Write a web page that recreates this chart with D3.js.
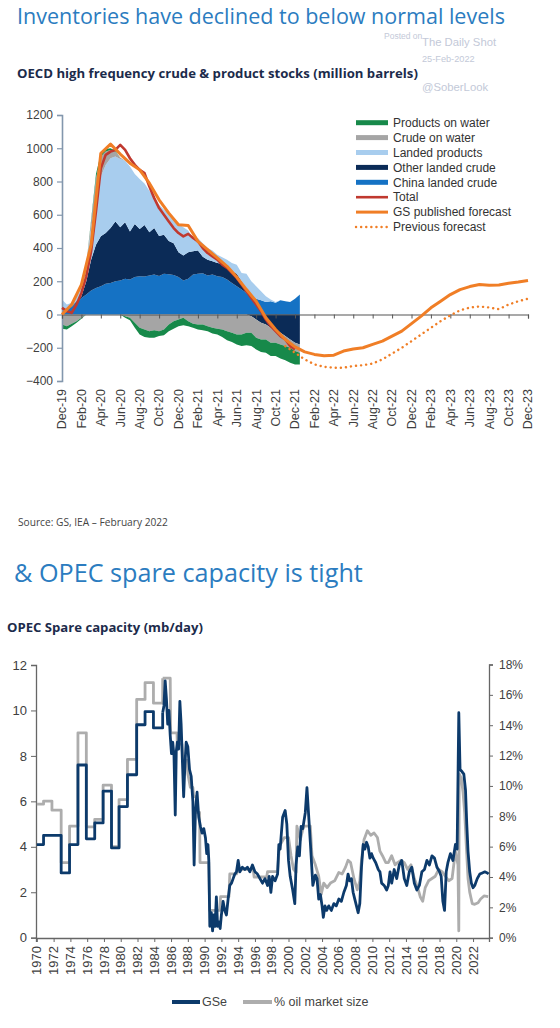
<!DOCTYPE html>
<html lang="en">
<head>
<meta charset="UTF-8">
<title>Inventories and OPEC spare capacity</title>
<script src="https://d3js.org/d3.v7.min.js"></script>
<style>
  body { margin: 0; background: #fff; }
  svg { display: block; }
</style>
</head>
<body>
<svg width="560" height="1028"></svg>
<script>
// ---------- Chart 1: OECD stocks (months after Dec-19, every half month) ----------
const stockMonths = d3.range(0, 25, 0.5);
const chinaCrude = [20,30,45,70,100,120,145,160,170,185,190,200,205,215,210,225,230,228,235,240,232,245,242,238,225,205,215,240,245,248,235,240,230,225,210,190,170,150,130,110,95,85,75,80,70,85,80,75,95,120];
const otherCrude = [0,5,5,10,10,80,185,260,300,305,330,360,320,340,290,320,285,310,260,280,240,235,200,190,150,150,160,140,140,100,95,80,80,80,80,70,75,50,20,-10,-30,-50,-60,-80,-90,-110,-130,-150,-170,-180];
const landedProducts = [70,25,20,30,90,100,190,280,360,410,420,390,410,370,390,300,300,250,250,180,190,150,170,150,170,170,130,80,75,80,70,65,50,40,40,50,55,50,95,90,75,55,35,10,5,0,0,0,0,0];
const crudeOnWater = [-60,-70,-55,-40,-20,0,40,120,120,80,50,30,10,-10,-20,-50,-80,-90,-100,-95,-100,-90,-60,-40,-30,-20,-40,-55,-60,-60,-70,-80,-85,-90,-100,-110,-120,-120,-110,-100,-110,-100,-90,-90,-80,-70,-60,-50,-50,-50];
const productsOnWater = [-25,-20,-15,-10,-5,0,10,25,20,15,10,5,0,-10,-15,-30,-40,-45,-40,-45,-30,-35,-40,-45,-40,-45,-30,-25,-30,-35,-30,-35,-35,-45,-55,-55,-60,-70,-75,-80,-70,-75,-80,-80,-80,-85,-85,-90,-80,-70];
const totalStocks = [40,20,10,60,130,230,380,620,880,960,980,990,1020,990,940,900,870,850,770,700,640,600,560,520,490,470,485,460,440,400,370,350,330,300,280,250,220,180,140,100,60,20,-30,-70,-100,-130,-150,-190,-210];

// monthly forecasts
const forecastMonths = d3.range(0, 49);
const gsForecast = [0,60,180,420,970,1025,965,910,870,790,690,610,540,535,440,390,340,290,225,150,80,-20,-90,-150,-195,-225,-240,-248,-245,-220,-208,-200,-180,-160,-130,-100,-55,-10,40,80,120,150,168,180,176,178,188,195,205];
const prevMonths = d3.range(23, 49);
const prevForecast = [-190,-230,-270,-300,-315,-320,-320,-310,-305,-295,-270,-235,-200,-160,-120,-80,-40,-5,25,42,48,42,32,60,80,95];

const monthLabels = ["Dec-19","Feb-20","Apr-20","Jun-20","Aug-20","Oct-20","Dec-20","Feb-21","Apr-21","Jun-21","Aug-21","Oct-21","Dec-21","Feb-22","Apr-22","Jun-22","Aug-22","Oct-22","Dec-22","Feb-23","Apr-23","Jun-23","Aug-23","Oct-23","Dec-23"];
const stockTicks = [-400, -200, 0, 200, 400, 600, 800, 1000, 1200];

const legendItems = [
  { name: "Products on water", color: "#17894a", type: "area" },
  { name: "Crude on water", color: "#a5a5a5", type: "area" },
  { name: "Landed products", color: "#a8cdee", type: "area" },
  { name: "Other landed crude", color: "#0b2b57", type: "area" },
  { name: "China landed crude", color: "#1572c4", type: "area" },
  { name: "Total", color: "#c0392f", type: "line" },
  { name: "GS published forecast", color: "#f07e26", type: "line" },
  { name: "Previous forecast", color: "#f07e26", type: "dot" }
];

// ---------- Chart 2: OPEC spare capacity ----------
// yearly steps 1970-1985
const annualYears = [1970, 1970.8, 1971.8, 1972.9, 1973.9, 1974.9, 1975.9, 1976.9, 1977.9, 1978.9, 1979.8, 1980.8, 1981.9, 1982.9, 1983.9, 1985.0];
const gseAnnual = [4.1, 4.5, 4.5, 2.85, 4.1, 7.6, 4.35, 5.05, 6.45, 3.95, 5.77, 7.17, 9.37, 9.95, 9.23, 9.9];
const pctAnnual = [8.8, 9.0, 8.4, 4.95, 7.35, 13.5, 7.3, 7.8, 10.05, 6.0, 9.1, 11.75, 15.7, 16.8, 15.45, 17.1];

// GSe (mb/day), 1985 onward
const gseMonthly = [[1985.0,9.9],[1985.15,10.2],[1985.3,11.3],[1985.45,10.5],[1985.6,9.4],[1985.75,10.0],[1985.9,8.9],[1986.05,8.1],[1986.2,8.6],[1986.35,8.0],[1986.5,5.4],[1986.62,8.2],[1986.75,8.6],[1986.9,8.3],[1987.05,10.4],[1987.2,9.4],[1987.35,7.8],[1987.5,6.2],[1987.65,7.6],[1987.8,8.6],[1988.0,8.4],[1988.2,7.4],[1988.4,7.1],[1988.6,6.0],[1988.75,3.2],[1988.9,5.5],[1989.1,6.4],[1989.3,5.3],[1989.5,4.9],[1989.7,4.6],[1989.9,4.8],[1990.1,4.4],[1990.25,3.7],[1990.4,4.1],[1990.5,3.4],[1990.62,0.5],[1990.8,1.1],[1990.95,0.3],[1991.1,1.0],[1991.25,0.5],[1991.4,1.8],[1991.55,0.5],[1991.7,0.7],[1991.85,0.4],[1992.0,1.0],[1992.2,1.6],[1992.4,1.2],[1992.6,1.0],[1992.8,1.7],[1993.0,2.3],[1993.2,2.4],[1993.4,2.6],[1993.6,2.8],[1993.8,2.9],[1994.0,3.4],[1994.2,2.9],[1994.5,3.1],[1994.8,3.0],[1995.1,3.1],[1995.4,2.9],[1995.7,3.2],[1996.0,2.9],[1996.3,2.8],[1996.6,2.6],[1996.9,2.4],[1997.2,2.6],[1997.5,2.3],[1997.7,2.7],[1997.9,2.0],[1998.1,2.7],[1998.4,2.5],[1998.7,2.8],[1998.85,4.1],[1999.0,3.9],[1999.3,5.3],[1999.6,5.6],[1999.8,5.0],[2000.0,3.4],[2000.2,2.7],[2000.5,2.1],[2000.75,1.5],[2000.9,3.2],[2001.1,4.0],[2001.3,3.6],[2001.5,4.9],[2001.7,4.8],[2002.0,5.5],[2002.2,6.6],[2002.4,5.4],[2002.6,4.2],[2002.9,2.3],[2003.2,2.75],[2003.4,2.6],[2003.6,1.7],[2003.8,1.9],[2004.0,1.4],[2004.15,0.9],[2004.35,1.4],[2004.55,1.2],[2004.8,1.4],[2005.1,1.2],[2005.4,1.5],[2005.7,1.4],[2006.0,1.7],[2006.3,1.6],[2006.6,2.0],[2006.9,2.3],[2007.1,2.8],[2007.3,2.5],[2007.5,2.6],[2007.7,2.0],[2007.9,1.7],[2008.1,1.4],[2008.3,1.1],[2008.5,1.5],[2008.7,3.1],[2008.9,4.1],[2009.1,3.9],[2009.3,4.2],[2009.5,4.0],[2009.7,3.5],[2009.9,3.7],[2010.1,3.5],[2010.4,3.3],[2010.7,3.0],[2010.9,2.9],[2011.1,2.4],[2011.4,2.3],[2011.7,2.1],[2011.9,2.3],[2012.1,2.9],[2012.3,2.4],[2012.6,3.0],[2012.9,2.6],[2013.2,3.2],[2013.5,3.4],[2013.8,2.6],[2014.1,2.3],[2014.4,2.9],[2014.7,3.1],[2015.0,2.4],[2015.3,2.1],[2015.6,2.3],[2015.9,2.9],[2016.2,3.0],[2016.5,3.4],[2016.8,3.2],[2017.1,3.6],[2017.4,3.5],[2017.7,3.1],[2018.0,2.9],[2018.2,2.7],[2018.4,1.6],[2018.6,1.2],[2018.8,2.9],[2019.0,3.3],[2019.3,3.7],[2019.6,3.4],[2019.9,4.1],[2020.1,3.9],[2020.3,9.9],[2020.45,7.4],[2020.7,7.3],[2020.9,7.2],[2021.1,6.5],[2021.25,5.0],[2021.4,3.8],[2021.6,2.9],[2021.8,2.4],[2022.0,2.2],[2022.2,2.3],[2022.5,2.6],[2022.8,2.8],[2023.1,2.85],[2023.4,2.9],[2023.7,2.85],[2023.85,2.8]];

// % of oil market size, 1985 onward
const pctMonthly = [[1985.0,17.1],[1985.9,17.1],[1985.95,13.5],[1986.7,13.5],[1986.75,12.75],[1987.3,12.75],[1987.4,11.7],[1987.9,11.7],[1988.0,10.8],[1988.3,9.9],[1988.6,9.9],[1988.7,9.3],[1989.0,9.3],[1989.1,8.25],[1989.4,8.25],[1989.45,4.95],[1990.5,4.95],[1990.6,1.8],[1991.8,1.8],[1991.9,2.7],[1992.9,2.7],[1993.0,4.2],[1993.8,4.2],[1994.0,4.5],[1995.8,4.5],[1995.9,4.0],[1997.4,4.0],[1997.5,4.35],[1998.7,4.35],[1998.9,6.0],[1999.5,6.6],[2000.0,6.6],[2000.3,5.4],[2000.6,4.5],[2000.9,4.3],[2001.0,7.35],[2001.4,6.45],[2001.8,7.35],[2002.6,7.35],[2002.8,5.4],[2003.2,4.8],[2003.6,4.05],[2003.9,2.85],[2004.2,3.6],[2004.6,3.3],[2005.0,3.6],[2005.5,3.75],[2006.0,4.3],[2006.4,4.2],[2006.8,4.65],[2007.1,5.1],[2007.4,4.95],[2007.8,3.9],[2008.2,3.15],[2008.5,3.75],[2008.7,5.1],[2009.0,6.45],[2009.4,7.05],[2009.8,6.75],[2010.2,6.9],[2010.6,6.6],[2010.9,5.7],[2011.2,5.4],[2011.6,4.95],[2011.9,4.95],[2012.3,5.4],[2012.7,4.8],[2013.0,4.95],[2013.4,5.1],[2013.8,4.95],[2014.2,4.5],[2014.6,4.8],[2015.0,3.9],[2015.4,3.3],[2015.7,2.7],[2016.0,2.4],[2016.3,3.3],[2016.7,3.75],[2017.1,3.9],[2017.5,4.05],[2017.9,4.5],[2018.3,4.35],[2018.7,4.05],[2019.1,3.75],[2019.5,3.9],[2019.9,5.7],[2020.2,4.8],[2020.3,0.45],[2020.35,10.8],[2020.6,10.5],[2020.8,9.6],[2021.0,8.25],[2021.2,6.0],[2021.4,3.9],[2021.6,3.0],[2021.9,2.25],[2022.2,2.2],[2022.6,2.3],[2022.9,2.55],[2023.3,2.75],[2023.8,2.7]];

const yearTicks = [1970,1972,1974,1976,1978,1980,1982,1984,1986,1988,1990,1992,1994,1996,1998,2000,2002,2004,2006,2008,2010,2012,2014,2016,2018,2020,2022];
const capacityTicks = [0, 2, 4, 6, 8, 10, 12];
const pctTicks = [0, 2, 4, 6, 8, 10, 12, 14, 16, 18];

const svg = d3.select("svg");
const axisFont = "'Liberation Sans', Arial, sans-serif";
const headFont = "'Open Sans', sans-serif";

// scale text so it spans the width seen in the picture
function fitWidth(t, target) {
  const w = t.node().getComputedTextLength();
  const fs = parseFloat(t.attr("font-size"));
  t.attr("font-size", (fs * target / w).toFixed(2));
}

// ---------- watermark ----------
const wm = svg.append("g").attr("font-family", axisFont).attr("fill", "#c3c9d8");
wm.append("text").attr("x", 384).attr("y", 39).attr("font-size", 8.5).text("Posted on");
wm.append("text").attr("x", 422).attr("y", 46).attr("font-size", 11.3).text("The Daily Shot");
wm.append("text").attr("x", 422).attr("y", 62).attr("font-size", 9.2).text("25-Feb-2022");
wm.append("text").attr("x", 422).attr("y", 91).attr("font-size", 11.3).text("@SoberLook");

// ---------- headings ----------
const t1 = svg.append("text").attr("x", 17).attr("y", 24).attr("font-family", headFont)
  .attr("font-size", 23).attr("fill", "#2b7cc0").text("Inventories have declined to below normal levels");
fitWidth(t1, 488);
const s1 = svg.append("text").attr("x", 17).attr("y", 78).attr("font-family", headFont)
  .attr("font-weight", 700).attr("font-size", 13).attr("fill", "#1c2b4b")
  .text("OECD high frequency crude & product stocks (million barrels)");
fitWidth(s1, 401);
const src = svg.append("text").attr("x", 18).attr("y", 526).attr("font-family", headFont)
  .attr("font-size", 9).attr("fill", "#444").text("Source: GS, IEA \u2013 February 2022");
fitWidth(src, 150);
const t2 = svg.append("text").attr("x", 14).attr("y", 582).attr("font-family", headFont)
  .attr("font-size", 25).attr("fill", "#2b7cc0").text("& OPEC spare capacity is tight");
fitWidth(t2, 349);
const s2 = svg.append("text").attr("x", 7).attr("y", 632).attr("font-family", headFont)
  .attr("font-weight", 700).attr("font-size", 13).attr("fill", "#1c2b4b")
  .text("OPEC Spare capacity (mb/day)");
fitWidth(s2, 196);

// ---------- chart 1 ----------
const x1 = d3.scaleLinear().domain([0, 48]).range([62, 528]);
const y1 = d3.scaleLinear().domain([-400, 1200]).range([381, 115]);
const g1 = svg.append("g");

const keys = ["china", "other", "landed", "crudeWater", "productsWater"];
const layerColor = { china: "#1572c4", other: "#0b2b57", landed: "#a8cdee", crudeWater: "#a5a5a5", productsWater: "#17894a" };
const seriesByKey = { china: chinaCrude, other: otherCrude, landed: landedProducts, crudeWater: crudeOnWater, productsWater: productsOnWater };

// positive and negative parts stacked separately, so sign changes do not leave slivers
function rowsFor(pick) {
  return stockMonths.map((m, i) => {
    const r = { m };
    keys.forEach(k => { r[k] = pick(seriesByKey[k][i]); });
    return r;
  });
}
const stackGen = d3.stack().keys(keys);
const posLayers = stackGen(rowsFor(v => Math.max(v, 0)));
const negLayers = stackGen(rowsFor(v => Math.min(v, 0)));
const area = d3.area().x(d => x1(d.data.m)).y0(d => y1(d[0])).y1(d => y1(d[1]));

[posLayers, negLayers].forEach(layers => {
  g1.append("g").selectAll("path").data(layers).join("path")
    .attr("fill", d => layerColor[d.key])
    .attr("d", area);
});

// y axis
const ay1 = g1.append("g").attr("transform", "translate(62,0)")
  .call(d3.axisLeft(y1).tickValues(stockTicks).tickSize(5).tickPadding(4).tickFormat(d3.format("d")));
ay1.select(".domain").attr("stroke", "#8397ad").attr("stroke-width", 1.6);
ay1.selectAll(".tick line").attr("stroke", "#8397ad").attr("stroke-width", 1.2);
ay1.selectAll(".tick text").attr("font-family", axisFont).attr("font-size", 12).attr("fill", "#404040");

// zero line with month ticks
const ax1 = g1.append("g").attr("transform", `translate(0,${y1(0)})`)
  .call(d3.axisBottom(x1).tickValues(d3.range(0, 49, 2)).tickSize(4).tickFormat(""));
ax1.select(".domain").attr("stroke", "#555").attr("stroke-width", 1.2);
ax1.selectAll(".tick line").attr("stroke", "#555");

g1.append("g").selectAll("text").data(monthLabels).join("text")
  .attr("transform", (d, i) => `translate(${x1(i * 2)},389) rotate(-90)`)
  .attr("text-anchor", "end").attr("dy", "0.35em")
  .attr("font-family", axisFont).attr("font-size", 12.5).attr("fill", "#404040")
  .text(d => d);

// lines
const line1 = d3.line().x(d => x1(d[0])).y(d => y1(d[1]));
g1.append("path").datum(totalStocks.map((v, i) => [stockMonths[i], v]))
  .attr("fill", "none").attr("stroke", "#c0392f").attr("stroke-width", 2.6)
  .attr("stroke-linejoin", "round").attr("d", line1);
g1.append("path").datum(gsForecast.map((v, i) => [forecastMonths[i], v]))
  .attr("fill", "none").attr("stroke", "#f07e26").attr("stroke-width", 3)
  .attr("stroke-linejoin", "round").attr("d", line1);
g1.append("path").datum(prevForecast.map((v, i) => [prevMonths[i], v]))
  .attr("fill", "none").attr("stroke", "#f07e26").attr("stroke-width", 2.4)
  .attr("stroke-dasharray", "0.1,5").attr("stroke-linecap", "round").attr("d", line1);

// legend
const lg = g1.append("g").attr("font-family", axisFont).attr("font-size", 12).attr("fill", "#333");
legendItems.forEach((it, i) => {
  const yy = 122.7 + i * 14.9;
  if (it.type === "area") {
    lg.append("rect").attr("x", 356).attr("y", yy - 2.5).attr("width", 32).attr("height", 5).attr("fill", it.color);
  } else {
    const ln = lg.append("line").attr("x1", 356).attr("x2", 388).attr("y1", yy).attr("y2", yy)
      .attr("stroke", it.color).attr("stroke-width", it.type === "dot" ? 2.4 : (i === 5 ? 2.6 : 3));
    if (it.type === "dot") ln.attr("stroke-dasharray", "0.1,5").attr("stroke-linecap", "round");
  }
  lg.append("text").attr("x", 393).attr("y", yy).attr("dy", "0.35em").text(it.name);
});

// ---------- chart 2 ----------
const x2 = d3.scaleLinear().domain([1969.9, 2023.9]).range([36, 489]);
const yL = d3.scaleLinear().domain([0, 12]).range([937.7, 665]);
const yR = d3.scaleLinear().domain([0, 18]).range([937.7, 664.5]);
const g2 = svg.append("g");

const axL = g2.append("g").attr("transform", "translate(36,0)")
  .call(d3.axisLeft(yL).tickValues(capacityTicks).tickSize(5).tickPadding(4));
const axR = g2.append("g").attr("transform", "translate(489,0)")
  .call(d3.axisRight(yR).tickValues(pctTicks).tickSize(4).tickPadding(6).tickFormat(d => d + "%"));
const axB = g2.append("g").attr("transform", "translate(0,938)")
  .call(d3.axisBottom(x2).tickValues(yearTicks).tickSize(4).tickFormat(""));
[axL, axR, axB].forEach(a => {
  a.select(".domain").attr("stroke", "#666").attr("stroke-width", 1.3);
  a.selectAll(".tick line").attr("stroke", "#666");
});
axL.selectAll(".tick text").attr("font-family", axisFont).attr("font-size", 13).attr("fill", "#404040");
axR.selectAll(".tick text").attr("font-family", axisFont).attr("font-size", 12).attr("fill", "#404040");

g2.append("g").selectAll("text").data(yearTicks).join("text")
  .attr("transform", d => `translate(${x2(d)},946) rotate(-90)`)
  .attr("text-anchor", "end").attr("dy", "0.35em")
  .attr("font-family", axisFont).attr("font-size", 13).attr("fill", "#404040")
  .text(d => d);

const stepL = d3.line().curve(d3.curveStepAfter).x(d => x2(d[0])).y(d => yL(d[1]));
const stepR = d3.line().curve(d3.curveStepAfter).x(d => x2(d[0])).y(d => yR(d[1]));
const lineL = d3.line().x(d => x2(d[0])).y(d => yL(d[1]));
const lineR = d3.line().x(d => x2(d[0])).y(d => yR(d[1]));

const grayC = "#adadad", navyC = "#0c3a6b";
function drawLine(gen, data, color) {
  g2.append("path").datum(data).attr("fill", "none").attr("stroke", color)
    .attr("stroke-width", 2.8).attr("stroke-linejoin", "round").attr("d", gen);
}
drawLine(stepR, annualYears.map((y, i) => [y, pctAnnual[i]]), grayC);
drawLine(lineR, pctMonthly, grayC);
drawLine(stepL, annualYears.map((y, i) => [y, gseAnnual[i]]), navyC);
drawLine(lineL, gseMonthly, navyC);

// legend
const lg2 = g2.append("g").attr("font-family", axisFont).attr("font-size", 12.5).attr("fill", "#444");
lg2.append("line").attr("x1", 172).attr("x2", 200).attr("y1", 1002).attr("y2", 1002).attr("stroke", navyC).attr("stroke-width", 4);
lg2.append("text").attr("x", 202).attr("y", 1002).attr("dy", "0.35em").text("GSe");
lg2.append("line").attr("x1", 243).attr("x2", 272).attr("y1", 1002).attr("y2", 1002).attr("stroke", grayC).attr("stroke-width", 4);
lg2.append("text").attr("x", 274).attr("y", 1002).attr("dy", "0.35em").text("% oil market size");
</script>
</body>
</html>
